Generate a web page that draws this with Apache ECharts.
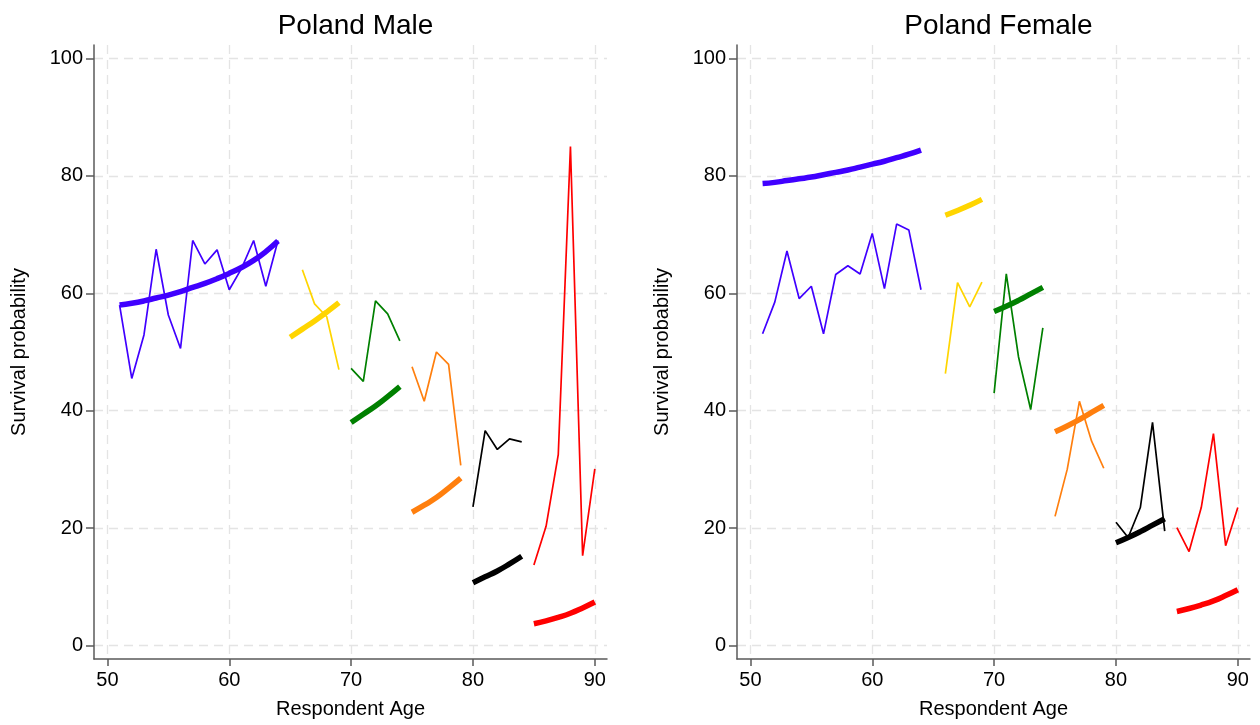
<!DOCTYPE html>
<html>
<head>
<meta charset="utf-8">
<script src="https://cdn.jsdelivr.net/npm/echarts@6/dist/echarts.min.js"></script>
<style>html,body{margin:0;padding:0;background:#fff;}#c{width:1260px;height:725px;}</style>
</head>
<body>
<div id="c"></div>
<script>
// ---- Data ----
const panelTitles = ['Poland Male', 'Poland Female'];
const xTicks = [50, 60, 70, 80, 90];
const yTicks = [0, 20, 40, 60, 80, 100];

const ages1 = [51,52,53,54,55,56,57,58,59,60,61,62,63,64];
const ages2a = [65,66,67,68,69];
const ages2 = [66,67,68,69];
const ages3 = [70,71,72,73,74];
const ages4 = [75,76,77,78,79];
const ages5 = [80,81,82,83,84];
const ages6 = [85,86,87,88,89,90];

// Male observed (thin)
const maleObs1 = [58.0,45.5,52.9,67.5,56.3,50.6,69.0,65.0,67.4,60.6,64.2,69.0,61.2,69.0];
const maleObs2 = [64.0,58.2,56.0,47.0];
const maleObs3 = [47.2,45.0,58.7,56.5,51.9];
const maleObs4 = [47.5,41.6,50.0,47.9,30.7];
const maleObs5 = [23.6,36.6,33.4,35.2,34.7];
const maleObs6 = [13.7,20.3,32.5,85.0,15.3,30.1];
// Male predicted (thick)
const malePred1 = [58.0,58.3,58.7,59.2,59.7,60.3,61.0,61.7,62.5,63.4,64.4,65.6,67.1,68.9];
const malePred2 = [52.5,53.9,55.3,56.8,58.4];
const malePred3 = [38.0,39.4,40.8,42.4,44.1];
const malePred4 = [22.7,23.9,25.2,26.8,28.5];
const malePred5 = [10.7,11.7,12.7,13.9,15.2];
const malePred6 = [3.7,4.2,4.8,5.5,6.4,7.4];

// Female observed (thin)
const femObs1 = [53.1,58.5,67.2,59.1,61.2,53.1,63.2,64.7,63.3,70.2,60.8,71.8,70.8,60.6];
const femObs2 = [46.3,61.8,57.7,61.9];
const femObs3 = [43.0,63.3,49.2,40.2,54.1];
const femObs4 = [22.0,30.0,41.6,34.8,30.2];
const femObs5 = [21.0,18.4,23.5,38.0,19.5];
const femObs6 = [20.1,16.0,23.5,36.1,17.0,23.5];
// Female predicted (thick)
const femPred1 = [78.7,78.9,79.2,79.5,79.8,80.2,80.6,81.0,81.5,82.0,82.5,83.1,83.7,84.4];
const femPred2 = [73.3,74.1,75.0,76.0];
const femPred3 = [56.9,57.8,58.8,59.9,61.0];
const femPred4 = [36.4,37.4,38.5,39.7,40.9];
const femPred5 = [17.5,18.4,19.4,20.5,21.6];
const femPred6 = [5.8,6.3,6.9,7.6,8.5,9.5];

const colors = ['#4000ff','#ffd500','#008000','#ff7f0e','#000000','#ff0000'];

// ---- Build ----
function pairs(xs, ys){ return xs.map((x,i)=>[x, ys[i]]); }
const FONT = 'Liberation Sans, Arial, sans-serif';

const panels = [
  { obs: [[ages1,maleObs1],[ages2,maleObs2],[ages3,maleObs3],[ages4,maleObs4],[ages5,maleObs5],[ages6,maleObs6]],
    pred:[[ages1,malePred1],[ages2a,malePred2],[ages3,malePred3],[ages4,malePred4],[ages5,malePred5],[ages6,malePred6]] },
  { obs: [[ages1,femObs1],[ages2,femObs2],[ages3,femObs3],[ages4,femObs4],[ages5,femObs5],[ages6,femObs6]],
    pred:[[ages1,femPred1],[ages2,femPred2],[ages3,femPred3],[ages4,femPred4],[ages5,femPred5],[ages6,femPred6]] }
];

const grids = [
  {left: 94, top: 45, width: 513, height: 614},
  {left: 737, top: 45, width: 513, height: 614}
];

const axisLineStyle = {color: '#5a5a5a', width: 1.5};
const gridLineStyle = {color: '#e4e4e4', type: [9,6], width: 1.3};

const xAxes = grids.map((g,i)=>({
  type: 'value', gridIndex: i, min: 48.9, max: 91,
  name: 'Respondent Age', nameLocation: 'middle', nameGap: 40,
  nameTextStyle: {fontFamily: FONT, fontSize: 20, color: '#000'},
  axisLine: {show: true, onZero: false, lineStyle: axisLineStyle},
  axisTick: {show: true, length: 7, customValues: xTicks, lineStyle: axisLineStyle},
  axisLabel: {customValues: xTicks, fontFamily: FONT, fontSize: 20, color: '#000', margin: 11},
  splitLine: {show: true, lineStyle: gridLineStyle}
}));
const yAxes = grids.map((g,i)=>({
  type: 'value', gridIndex: i, min: -2.3, max: 102.3,
  name: 'Survival probability', nameLocation: 'middle', nameGap: 65, nameRotate: 90,
  nameTextStyle: {fontFamily: FONT, fontSize: 20, color: '#000'},
  axisLine: {show: true, onZero: false, lineStyle: axisLineStyle},
  axisTick: {show: true, length: 8, customValues: yTicks, lineStyle: axisLineStyle},
  axisLabel: {customValues: yTicks, fontFamily: FONT, fontSize: 20, color: '#000', margin: 11},
  splitLine: {show: true, lineStyle: gridLineStyle}
}));

const series = [];
panels.forEach((p, gi)=>{
  p.obs.forEach((d, k)=>{
    series.push({type:'line', xAxisIndex: gi, yAxisIndex: gi, data: pairs(d[0], d[1]),
      showSymbol:false, symbol:'none', lineStyle:{color: colors[k], width: 1.7}, z: 3, silent: true, animation:false});
  });
  p.pred.forEach((d, k)=>{
    series.push({type:'line', xAxisIndex: gi, yAxisIndex: gi, data: pairs(d[0], d[1]), smooth: true,
      showSymbol:false, symbol:'none', lineStyle:{color: colors[k], width: 5.5}, z: 4, silent: true, animation:false});
  });
});

const chart = echarts.init(document.getElementById('c'), null, {renderer: 'canvas'});
chart.setOption({
  backgroundColor: '#ffffff',
  animation: false,
  title: panelTitles.map((t,i)=>({
    text: t, left: grids[i].left + grids[i].width/2, top: 7, textAlign: 'center',
    textStyle: {fontFamily: FONT, fontSize: 28, fontWeight: 'normal', color: '#000'}
  })),
  grid: grids,
  xAxis: xAxes,
  yAxis: yAxes,
  series: series
});
</script>
</body>
</html>
